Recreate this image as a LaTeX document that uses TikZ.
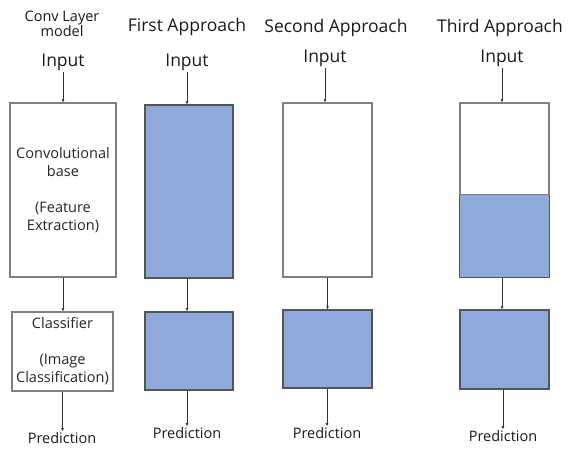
\documentclass[tikz,border=0pt]{standalone}
\usepackage{fontspec}
\setmainfont{Open Sans}
\usetikzlibrary{arrows.meta}
\definecolor{boxblue}{HTML}{8EAADB}
\definecolor{edgegray}{HTML}{7F7F7F}
\definecolor{edgedark}{HTML}{555555}
\definecolor{arrowgray}{HTML}{333333}
\tikzset{
  whitebox/.style={draw=edgegray,fill=white,line width=1.2pt,inner sep=0pt,align=center,
    font=\fontsize{14.5}{18}\selectfont,text=black!85},
  bluebox/.style={draw=edgedark,fill=boxblue,line width=1.2pt,inner sep=0pt},
  title/.style={font=\fontsize{17.5}{20}\selectfont,text=black!90,inner sep=1pt,align=center},
  small/.style={font=\fontsize{14.5}{18}\selectfont,text=black!90,inner sep=1pt,align=center},
  flow/.style={draw=arrowgray,line width=0.9pt,-{Latex[length=3pt,width=3pt]}}
}
\begin{document}
\begin{tikzpicture}[x=1pt,y=-1pt]
\useasboundingbox (0,0) rectangle (568,448);
% titles
\node[small] (t1) at (62,24) {Conv Layer\\[-3pt]model};
\node[title] (t2) at (187,27) {First Approach};
\node[title] (t3) at (336,28) {Second Approach};
\node[title] (t4) at (500,28) {Third Approach};
% inputs
\node[title] (i1) at (63,62) {Input};
\node[title] (i2) at (187,62) {Input};
\node[title] (i3) at (325,58) {Input};
\node[title] (i4) at (502,58) {Input};
% column 1
\node[whitebox,minimum width=106pt,minimum height=174pt] (b1) at (63,190)
  {Convolutional\\base\\[18pt](Feature\\Extraction)};
\node[whitebox,minimum width=101pt,minimum height=79pt] (c1) at (62.5,351.5)
  {Classifier\\[18pt](Image\\Classification)};
% column 2
\node[bluebox,minimum width=88pt,minimum height=173pt] (b2) at (189,191.5) {};
\node[bluebox,minimum width=88pt,minimum height=78pt] (c2) at (189,351) {};
% column 3
\node[whitebox,minimum width=89pt,minimum height=174pt] (b3) at (327.5,190) {};
\node[bluebox,minimum width=89pt,minimum height=78pt] (c3) at (327.5,349) {};
% column 4
\node[whitebox,minimum width=89pt,minimum height=174pt] (b4) at (504.5,190) {};
\coordinate (m4w) at ([yshift=83pt]b4.south west);
\coordinate (m4e) at ([yshift=83pt]b4.south east);
\fill[boxblue] (b4.south west) rectangle (m4e);
\draw[edgegray,line width=0.8pt] (m4w) -- (m4e);
\draw[edgedark,line width=1.2pt] (m4w) -- (b4.south west) -- (b4.south east) -- (m4e);
\node[bluebox,minimum width=89pt,minimum height=79pt] (c4) at (504.5,349.5) {};
% predictions
\node[small] (p1) at (62,438) {Prediction};
\node[small] (p2) at (187,433) {Prediction};
\node[small] (p3) at (327,433) {Prediction};
\node[small] (p4) at (503,436) {Prediction};
% arrows
\draw[flow] (i1.south) -- (i1.south |- b1.north);
\draw[flow] (i2.south) -- (i2.south |- b2.north);
\draw[flow] (i3.south) -- (i3.south |- b3.north);
\draw[flow] (i4.south) -- (i4.south |- b4.north);
\draw[flow] (b1.south) -- (b1.south |- c1.north);
\draw[flow] (b2.south -| i2) -- (i2 |- c2.north);
\draw[flow] (b3.south) -- (b3.south |- c3.north);
\draw[flow] (b4.south -| i4) -- (i4 |- c4.north);
\draw[flow] (c1.south) -- (c1.south |- p1.north);
\draw[flow] (c2.south -| p2) -- (p2.north);
\draw[flow] (c3.south -| p3) -- (p3.north);
\draw[flow] (c4.south -| p4) -- (p4.north);
\end{tikzpicture}
\end{document}
